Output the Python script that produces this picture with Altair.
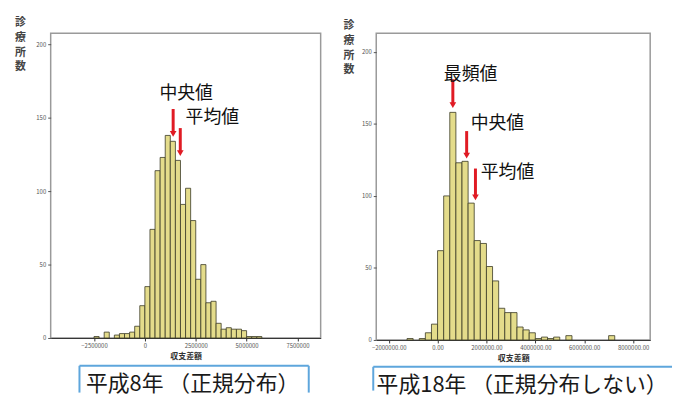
import altair as alt
import pandas as pd

# ---------------- data ----------------
BIN = 250000

# 平成8年: histogram bins (start of bin, yen) and number of clinics
h8_start = [-2500000, -2000000, -1500000, -1250000, -1000000, -750000, -500000, -250000,
            0, 250000, 500000, 750000, 1000000, 1250000, 1500000, 1750000,
            2000000, 2250000, 2500000, 2750000, 3000000, 3250000, 3500000, 3750000,
            4000000, 4250000, 4500000, 4750000, 5000000, 5250000, 5500000]
h8_count = [1, 4, 2, 3, 3, 4, 8, 22,
            35, 74, 114, 123, 138, 134, 121, 91,
            102, 80, 40, 50, 24, 25, 10, 6,
            7, 6, 6, 5, 1, 1, 1]

# 平成18年
h18_start = [-1250000, -750000, -500000, -250000,
             0, 250000, 500000, 750000, 1000000, 1250000, 1500000, 1750000,
             2000000, 2250000, 2500000, 2750000, 3000000, 3250000, 3500000, 3750000,
             4000000, 4250000, 4500000, 4750000, 5250000, 7000000]
h18_count = [1, 1, 5, 11,
             62, 100, 158, 123, 124, 95, 69, 67,
             51, 41, 22, 19, 19, 9, 7, 5,
             1, 2, 1, 2, 3, 3]

h8_ticks = [-2500000, 0, 2500000, 5000000, 7500000]
h18_ticks = [-2000000, 0, 2000000, 4000000, 6000000, 8000000]
y_ticks = [0, 50, 100, 150, 200]

# annotations: label, arrow x, arrow top, arrow bottom, label x, label y
h8_labels = ["中央値", "平均値"]
h8_arrow_x = [1390000, 1740000]
h8_arrow_top = [156, 143]
h8_arrow_bot = [139, 126]
h8_label_x = [2030000, 3320000]
h8_label_y = [166, 150]

h18_labels = ["最頻値", "中央値", "平均値"]
h18_arrow_x = [625000, 1190000, 1550000]
h18_arrow_top = [181, 145, 119]
h18_arrow_bot = [163, 128, 99]
h18_label_x = [1350000, 2450000, 2860000]
h18_label_y = [184, 150, 116]

y_title = ["診", "療", "所", "数"]
x_title = "収支差額"
h8_caption = "平成8年 （正規分布）"
h18_caption = "平成18年 （正規分布しない）"

FONT = "Noto Sans CJK JP"
RED = "#e01b24"
BLUE = "#5ea6dc"


def panel(starts, counts, ticks, fmt, xdomain, ymax, width, height,
          labels, ax, atop, abot, lx, ly, caption, box, title_pos):
    bars = pd.DataFrame({"x0": starts, "x1": [s + BIN for s in starts], "n": counts,
                         "base": [0] * len(starts)})
    xs = alt.Scale(domain=xdomain, nice=False, zero=False)
    ys = alt.Scale(domain=[0, ymax], nice=False)
    xaxis = alt.Axis(values=ticks, format=fmt, title=x_title, labelFontSize=6,
                     labelColor="#555", tickSize=3, tickColor="#333", domainColor="#333",
                     grid=False, titleFontSize=8, titleFont=FONT, titleFontWeight="bold",
                     titleColor="#333", titlePadding=4, labelPadding=2, labelFont=FONT)
    yaxis = alt.Axis(values=y_ticks, title=y_title, titleAngle=0, titleX=title_pos[0],
                     titleY=title_pos[1], titleAlign="center", titleBaseline="top",
                     titleFontSize=11, titleLineHeight=15, titleFont=FONT,
                     titleFontWeight="bold", titleColor="#444", labelFontSize=6,
                     labelColor="#555", tickSize=3, tickColor="#555", domain=False,
                     grid=False, labelPadding=2, labelFont=FONT)
    bar = alt.Chart(bars).mark_rect(fill="#e4dc8b", stroke="#3a3a26", strokeWidth=0.8).encode(
        x=alt.X("x0:Q", scale=xs, axis=xaxis, title=x_title),
        x2="x1:Q",
        y=alt.Y("n:Q", scale=ys, axis=yaxis, title=y_title),
        y2="base:Q",
    )
    ann = pd.DataFrame({"label": labels, "ax": ax, "atop": atop, "abot": abot, "lx": lx, "ly": ly})
    shaft = alt.Chart(ann).mark_rule(color=RED, strokeWidth=3).encode(
        x=alt.X("ax:Q", title=x_title), y=alt.Y("atop:Q", title=y_title), y2="abot:Q")
    head = alt.Chart(ann).mark_point(shape="triangle-down", filled=True, size=45,
                                      color=RED, opacity=1).encode(
        x=alt.X("ax:Q", title=x_title), y=alt.Y("abot:Q", title=y_title))
    text = alt.Chart(ann).mark_text(font=FONT, fontSize=18, color="#111").encode(
        x=alt.X("lx:Q", title=x_title), y=alt.Y("ly:Q", title=y_title), text="label:N")
    one = alt.Data(values=[{"a": 1}])
    bx0, bx1, by0, by1, tx, ty, right_side = box
    layers = [bar, shaft, head, text]
    layers.append(alt.Chart(one).mark_rule(color=BLUE, strokeWidth=2).encode(
        x=alt.value(bx0), x2=alt.value(bx1), y=alt.value(by0)))
    layers.append(alt.Chart(one).mark_rule(color=BLUE, strokeWidth=2).encode(
        x=alt.value(bx0), y=alt.value(by0), y2=alt.value(by1)))
    if right_side:
        layers.append(alt.Chart(one).mark_rule(color=BLUE, strokeWidth=2).encode(
            x=alt.value(bx1), y=alt.value(by0), y2=alt.value(by1)))
    layers.append(alt.Chart(one).mark_text(font=FONT, fontSize=22, color="#1a1a1a",
                                           baseline="middle", align="center").encode(
        x=alt.value(tx), y=alt.value(ty), text=alt.value(caption)))
    return alt.layer(*layers).properties(width=width, height=height)


left = panel(h8_start, h8_count, h8_ticks, "d", [-4630000, 8640000], 207.6, 272, 307,
             h8_labels, h8_arrow_x, h8_arrow_top, h8_arrow_bot, h8_label_x, h8_label_y,
             h8_caption, (29, 260, 335, 362, 143, 353, True), (-31, -17))
right = panel(h18_start, h18_count, h18_ticks, ".2f", [-2510000, 8700000], 212.9, 276, 309,
              h18_labels, h18_arrow_x, h18_arrow_top, h18_arrow_bot, h18_label_x, h18_label_y,
              h18_caption, (-3, 298, 336, 360, 147, 354, False), (-28, -14))

chart = alt.hconcat(left, right, spacing=20).properties(
    padding={"left": 5, "top": 6, "right": 0, "bottom": 0},
    background="white",
).configure_view(stroke="#9a9a9a", strokeWidth=1.5)

chart.save("out.html", embed_options={"renderer": "svg", "actions": False})
